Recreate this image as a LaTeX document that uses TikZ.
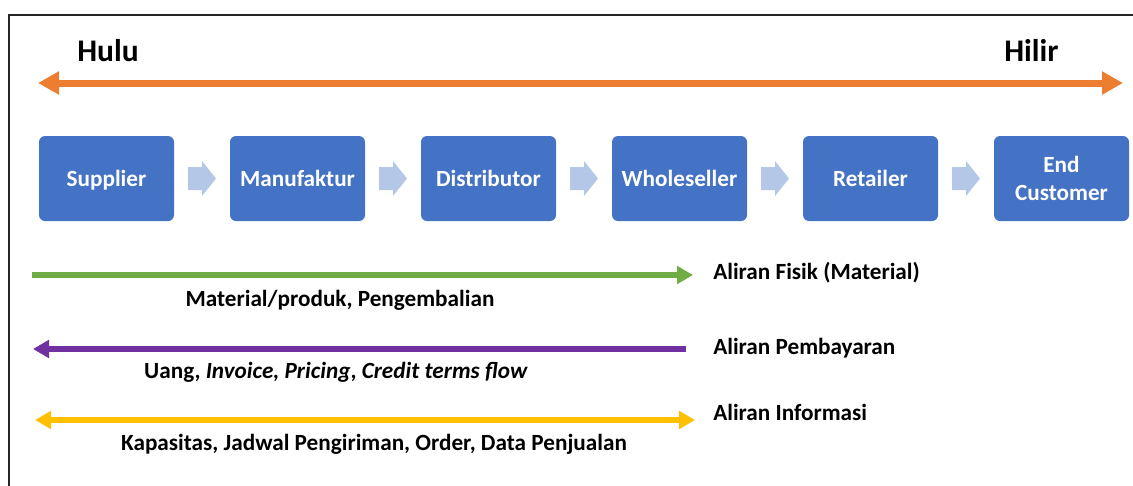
\documentclass[tikz,border=0pt]{standalone}
\usepackage{fontspec}
\setmainfont{Carlito}
\usepackage{tikz}
\usetikzlibrary{arrows.meta,calc,positioning}

\definecolor{hulucol}{HTML}{ED7D31}
\definecolor{fisikcol}{HTML}{70AD47}
\definecolor{bayarcol}{HTML}{7030A0}
\definecolor{infocol}{HTML}{FFC000}
\definecolor{boxcol}{HTML}{4472C4}
\definecolor{chevcol}{HTML}{B4C7E7}

\tikzset{
  box/.style={fill=boxcol, rounded corners=4.5pt, minimum width=101.25pt,
    minimum height=63.75pt, inner sep=0pt, text=white, align=center,
    font=\fontsize{17.4}{21}\selectfont\bfseries},
  chev/.style={fill=chevcol},
  lbl/.style={anchor=base west, inner sep=0pt, font=\fontsize{17.4}{21}\selectfont\bfseries},
  sublbl/.style={anchor=base, inner sep=0pt, font=\fontsize{17.4}{21}\selectfont\bfseries},
  flow/.style={line width=4pt, -{Triangle[length=12pt,width=13pt]}},
}

\begin{document}
\begin{tikzpicture}[x=0.75pt,y=-0.75pt]
    \useasboundingbox (0,0) rectangle (1133,486);

    % Frame
    \draw[line width=1.1pt,black!85] (1133,15) -- (9,15) -- (9,486);

    % Hulu - Hilir
    \node[anchor=base west,inner sep=0pt,font=\fontsize{23.6}{28}\selectfont\bfseries] (hulu) at (77,61) {Hulu};
    \node[anchor=base west,inner sep=0pt,font=\fontsize{23.6}{28}\selectfont\bfseries] (hilir) at (1004,61) {Hilir};
    \coordinate (huluL) at (38,83);
    \coordinate (hilirR) at (1123,83);
    \draw[hulucol,line width=5.25pt,{Triangle[length=15.75pt,width=16.5pt]}-{Triangle[length=15.75pt,width=16.5pt]}] (huluL) -- (hilirR);

    % Chain members
    \foreach \name/\txt [count=\i from 0] in {sup/{\raisebox{0pt}[\height][0pt]{Supplier}}, man/Manufaktur, dis/Distributor, whs/Wholeseller, ret/Retailer, cus/{End\\Customer}}
    {
        \node[box] (\name) at (106.5+191*\i, 178.5) {\txt};
    }

    % Chevrons between members
    \foreach \a/\b in {sup/man, man/dis, dis/whs, whs/ret, ret/cus}
    {
        \fill[chev,shift={($(\a.east)!0.5!(\b.west)$)}] (-14,-11.5) -- (0,-11.5) -- (0,-17.5) -- (14,0) -- (0,17.5) -- (0,11.5) -- (-14,11.5) -- cycle;
    }

    % Physical flow
    \coordinate (fisikL) at (32,275);
    \coordinate (fisikR) at (693,275);
    \draw[flow,fisikcol] (fisikL) -- (fisikR);
    \node[lbl] (fisik) at (713,279) {Aliran Fisik (Material)};
    \node[sublbl] (fisiktxt) at (340,306) {Material/produk, Pengembalian};

    % Payment flow
    \coordinate (bayarR) at (686,349);
    \coordinate (bayarL) at (33,349);
    \draw[flow,bayarcol] (bayarR) -- (bayarL);
    \node[lbl] (bayar) at (713,354) {Aliran Pembayaran};
    \node[sublbl] (bayartxt) at (336,378) {Uang, \textit{Invoice, Pricing}, \textit{Credit terms flow}};

    % Information flow
    \coordinate (infoL) at (35,420);
    \coordinate (infoR) at (695,420);
    \draw[infocol,line width=4pt,{Triangle[length=12pt,width=13pt]}-{Triangle[length=12pt,width=13pt]}] (infoL) -- (infoR);
    \node[lbl] (info) at (713,420) {Aliran Informasi};
    \node[sublbl] (infotxt) at (374,450) {Kapasitas, Jadwal Pengiriman, Order, Data Penjualan};
\end{tikzpicture}
\end{document}
